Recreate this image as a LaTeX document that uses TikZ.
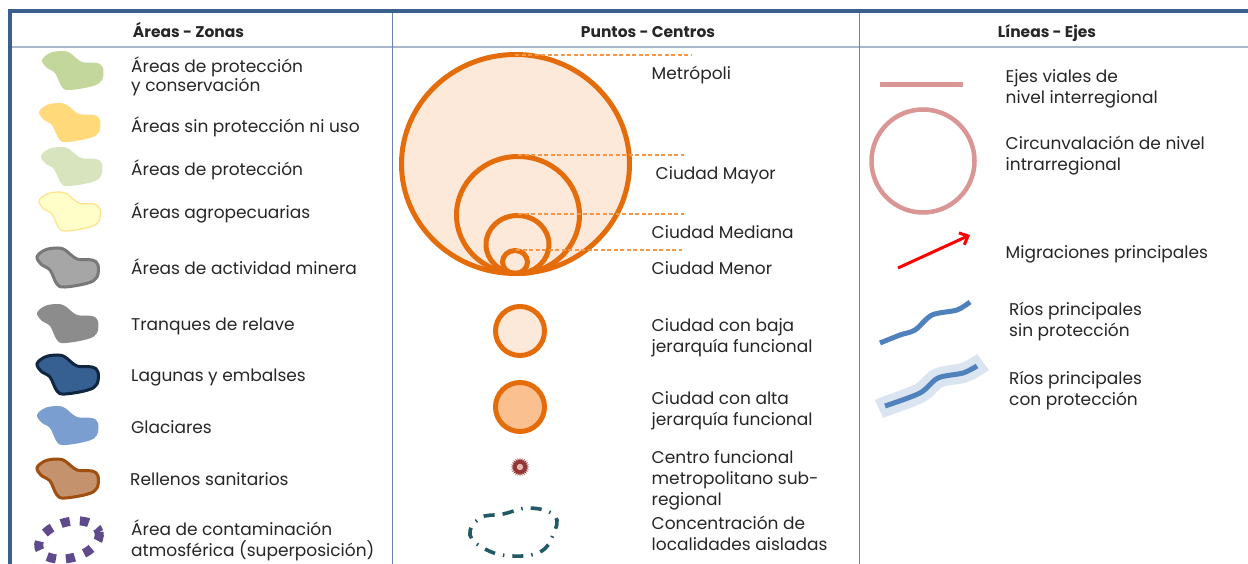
\documentclass[tikz,border=0pt]{standalone}
\usepackage{fontspec}
\setmainfont{Poppins}
\usetikzlibrary{arrows.meta}
\definecolor{frameblue}{HTML}{3A5F8B}
\definecolor{seprule}{HTML}{A9B7CB}
\definecolor{divrule}{HTML}{6A83AE}
\definecolor{txt}{HTML}{262626}
\definecolor{orng}{HTML}{E46C0A}
\definecolor{orngdash}{HTML}{F79646}
\definecolor{peach}{HTML}{FDE9D9}
\definecolor{peachdark}{HTML}{FAC090}
\definecolor{pinkrd}{HTML}{D99694}
\definecolor{riverblue}{HTML}{4F81BD}
\definecolor{riverband}{HTML}{DBE5F1}
\definecolor{tealc}{HTML}{215967}
\definecolor{purp}{HTML}{5F4A8B}
\definecolor{starred}{HTML}{943634}
\definecolor{starpink}{HTML}{E6B8B7}
\tikzset{
  lbl/.style={anchor=base west,align=left,inner sep=0pt,text=txt,
    font=\fontsize{17}{21}\selectfont},
  hdr/.style={anchor=base,inner sep=0pt,text=txt,
    font=\fontsize{15.5}{21}\selectfont\bfseries},
  blob/.pic={\path[pic actions] plot[smooth cycle,tension=0.6] coordinates
    {(-31,-10) (-23,-17) (-11,-19) (-3,-17) (9,-8) (24,-7) (30,-2) (29,10)
     (20,16) (-3,20) (-11,17) (-18,3) (-26,-2)};},
  ring/.style={draw=orng,line width=5pt},
  leader/.style={draw=orngdash,line width=1.6pt,dash pattern=on 4pt off 2.5pt},
  river/.style={draw=riverblue,line width=5pt,line join=round},
}
\begin{document}
\begin{tikzpicture}[x=1pt,y=-1pt]
\useasboundingbox[fill=white] (0,0) rectangle (1248,564);
% frame
\draw[seprule,line width=2pt] (12,47) -- (1248,47);
\draw[divrule,line width=1pt] (392,13) -- (392,564) (859,13) -- (859,564);
\draw[frameblue,line width=4pt] (8,11) -- (1248,11);
\draw[frameblue,line width=4pt] (10,9) -- (10,564);
% headers
\node[hdr] (h1) at (188.5,38) {Áreas - Zonas};
\node[hdr] (h2) at (648,38) {Puntos - Centros};
\node[hdr] (h3) at (1047,38) {Líneas - Ejes};
% ---------------- left column
\pic (b1) [fill={rgb,255:red,195;green,214;blue,155}] at (73,70) {blob};
\pic (b2) [fill={rgb,255:red,255;green,217;blue,122}] at (70,122) {blob};
\pic (b3) [fill={rgb,255:red,215;green,228;blue,189}] at (72,166) {blob};
\pic (b4) [fill={rgb,255:red,255;green,253;blue,200},draw={rgb,255:red,255;green,225;blue,140},line width=1.2pt] at (70,211) {blob};
\pic (b5) [fill={rgb,255:red,166;green,166;blue,166},draw={rgb,255:red,120;green,120;blue,120},line width=3pt] at (68,267) {blob};
\pic (b6) [fill={rgb,255:red,140;green,140;blue,140}] at (68,323) {blob};
\pic (b7) [fill={rgb,255:red,55;green,96;blue,146},draw={rgb,255:red,16;green,37;blue,63},line width=3pt] at (68,374) {blob};
\pic (b8) [fill={rgb,255:red,122;green,158;blue,208}] at (68,425) {blob};
\pic (b9) [fill={rgb,255:red,196;green,146;blue,108},draw={rgb,255:red,160;green,79;blue,16},line width=3pt] at (68,478) {blob};
\draw[purp,line width=9pt,dash pattern=on 9pt off 10pt,rotate around={15:(69,540)}] (69,540) ellipse [x radius=31,y radius=18];

\node[lbl] (l1) at (131,91.7) {Áreas de protección\\[-1.5pt]y conservación};
\node[lbl] (l2) at (131,132.7) {Áreas sin protección ni uso};
\node[lbl] (l3) at (131,175.7) {Áreas de protección};
\node[lbl] (l4) at (131,218.3) {Áreas agropecuarias};
\node[lbl] (l5) at (131,275) {Áreas de actividad minera};
\node[lbl] (l6) at (131,330.7) {Tranques de relave};
\node[lbl] (l7) at (131,381.7) {Lagunas y embalses};
\node[lbl] (l8) at (131,433.3) {Glaciares};
\node[lbl] (l9) at (130,485) {Rellenos sanitarios};
\node[lbl] (l10) at (131,556.7) {Área de contaminación\\atmosférica (superposición)};
% ---------------- middle column
\fill[peach] (515.5,164) ellipse [x radius=114,y radius=109.5];
\draw[ring] (515.5,164) ellipse [x radius=114,y radius=109.5];
\draw[ring] (518,215) ellipse [x radius=61.5,y radius=58.5];
\draw[ring] (517.5,244.5) ellipse [x radius=31.5,y radius=29];
\draw[ring] (515,262) ellipse [x radius=12.5,y radius=11.5];
\coordinate (d1a) at (515,55);  \coordinate (d1b) at (692,55);
\coordinate (d2a) at (518,155); \coordinate (d2b) at (684,155);
\coordinate (d3a) at (518,214); \coordinate (d3b) at (684,214);
\coordinate (d4a) at (516,250); \coordinate (d4b) at (682,250);
\draw[leader] (d1a) -- (d1b);
\draw[leader] (d2a) -- (d2b);
\draw[leader] (d3a) -- (d3b);
\draw[leader] (d4a) -- (d4b);
\node[lbl] (m1) at (651.5,79.3) {Metrópoli};
\node[lbl] (m2) at (655.5,180) {Ciudad Mayor};
\node[lbl] (m3) at (651.5,238.3) {Ciudad Mediana};
\node[lbl] (m4) at (651.5,275) {Ciudad Menor};

\draw[ring,fill=peach] (520,331) circle [radius=24.5];
\draw[ring,fill=peachdark] (520,407) circle [radius=24.5];
\fill[starred] plot[samples=48,domain=0:47,variable=\k]
  ({520+(mod(\k,2)==0?9.5:6.5)*cos(\k*7.5)},{467+(mod(\k,2)==0?9.5:6.5)*sin(\k*7.5)}) -- cycle;
\fill[starpink] (520,467) circle [radius=3.2];
\draw[tealc,line width=3.6pt,dash pattern=on 11pt off 8pt on 1.5pt off 8pt]
  plot[smooth cycle,tension=0.7] coordinates
  {(480,518) (503,514) (530,508) (555,516) (553,535) (540,552) (512,556) (487,550) (470,535)};
\node[lbl] (m5) at (651.5,352.7) {Ciudad con baja\\jerarquía funcional};
\node[lbl] (m6) at (651.5,425) {Ciudad con alta\\jerarquía funcional};
\node[lbl] (m7) at (651.5,505) {Centro funcional\\metropolitano sub-\\regional};
\node[lbl] (m8) at (651.5,550.7) {Concentración de\\localidades aisladas};
% ---------------- right column
\draw[pinkrd,line width=5pt] (880,85) -- (963,85);
\draw[pinkrd,line width=4.5pt] (923,161) circle [radius=51.5];
\coordinate (ar1) at (898,268);
\coordinate (ar2) at (970,235);
\draw[red,line width=3pt,-{Straight Barb[length=7pt,width=13pt,line width=3pt]}] (ar1) -- (ar2);
\draw[river] plot[smooth,tension=0.5] coordinates
  {(880,343) (900,335) (915,330) (932,315) (957,310) (970,302)};
\draw[riverband,line width=20pt] plot[smooth,tension=0.5] coordinates
  {(879,409) (885,406.5) (920,393) (938,378) (963,373) (977,366) (983,362)};
\draw[river] plot[smooth,tension=0.5] coordinates
  {(885,406) (920,393) (938,378) (963,373) (977,366)};
\node[lbl] (r1) at (1005.5,103.3) {Ejes viales de\\nivel interregional};
\node[lbl] (r2) at (1005.5,170.7) {Circunvalación de nivel\\intrarregional};
\node[lbl] (r3) at (1005.5,258.3) {Migraciones principales};
\node[lbl] (r4) at (1009,336.7) {Ríos principales\\sin protección};
\node[lbl] (r5) at (1009,405) {Ríos principales\\con protección};
\end{tikzpicture}
\end{document}
